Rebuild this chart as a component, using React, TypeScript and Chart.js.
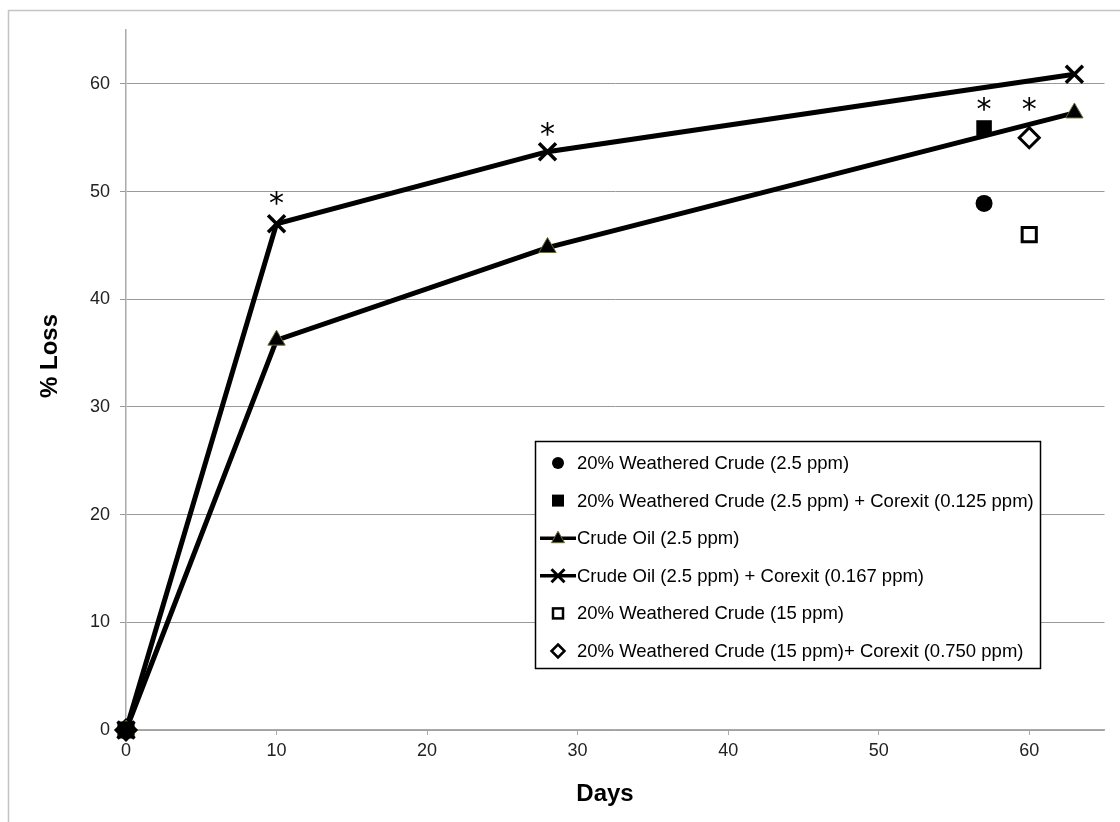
import React, { useEffect, useRef } from "react";
import { Chart, registerables } from "chart.js";

Chart.register(...registerables);

const lineDays = [0, 10, 28, 63];
const crudeOil = [0, 36.2, 44.8, 57.3];
const crudeOilCorexit = [0, 47.0, 53.7, 60.9];
const weathered25Days = [0, 57];
const weathered25 = [0, 48.9];
const weathered25Corexit = [0, 55.9];
const weathered15Days = [0, 60];
const weathered15 = [0, 46.0];
const weathered15Corexit = [0, 55.0];
const asteriskDays = [10, 28, 57, 60];
const asteriskValues = [49.4, 55.8, 58.1, 58.1];
const xTicks = [0, 10, 20, 30, 40, 50, 60];
const yTicks = [0, 10, 20, 30, 40, 50, 60];
const legendLabels = [
  "20% Weathered Crude (2.5 ppm)",
  "20% Weathered Crude (2.5 ppm) + Corexit (0.125 ppm)",
  "Crude Oil (2.5 ppm)",
  "Crude Oil (2.5 ppm) + Corexit (0.167 ppm)",
  "20% Weathered Crude (15 ppm)",
  "20% Weathered Crude (15 ppm)+ Corexit (0.750 ppm)",
];
const xTitle = "Days";
const yTitle = "% Loss";

const FONT = "'Liberation Sans', Arial, sans-serif";

const pts = (xs: number[], ys: number[]) => xs.map((x, i) => ({ x, y: ys[i] }));

function drawMarker(ctx: CanvasRenderingContext2D, kind: string, x: number, y: number) {
  ctx.save();
  ctx.strokeStyle = "#000";
  ctx.fillStyle = "#000";
  if (kind === "circle") {
    ctx.beginPath();
    ctx.arc(x, y, 6, 0, Math.PI * 2);
    ctx.fill();
  } else if (kind === "square") {
    ctx.fillRect(x - 6, y - 6, 12, 12);
  } else if (kind === "openSquare") {
    ctx.lineWidth = 2.5;
    ctx.strokeRect(x - 5, y - 5, 10, 10);
  } else if (kind === "diamond") {
    ctx.lineWidth = 2.5;
    ctx.beginPath();
    ctx.moveTo(x, y - 6.5);
    ctx.lineTo(x + 6.5, y);
    ctx.lineTo(x, y + 6.5);
    ctx.lineTo(x - 6.5, y);
    ctx.closePath();
    ctx.stroke();
  } else if (kind === "triangleLine" || kind === "crossLine") {
    ctx.lineWidth = 3.5;
    ctx.beginPath();
    ctx.moveTo(x - 18, y);
    ctx.lineTo(x + 18, y);
    ctx.stroke();
    if (kind === "triangleLine") {
      ctx.beginPath();
      ctx.moveTo(x, y - 7);
      ctx.lineTo(x + 6.5, y + 4.5);
      ctx.lineTo(x - 6.5, y + 4.5);
      ctx.closePath();
      ctx.fill();
      ctx.lineWidth = 1;
      ctx.strokeStyle = "#6b6b3a";
      ctx.stroke();
    } else {
      ctx.lineWidth = 3;
      ctx.beginPath();
      ctx.moveTo(x - 6.5, y - 6.5);
      ctx.lineTo(x + 6.5, y + 6.5);
      ctx.moveTo(x + 6.5, y - 6.5);
      ctx.lineTo(x - 6.5, y + 6.5);
      ctx.stroke();
    }
  }
  ctx.restore();
}

const legendKinds = ["circle", "square", "triangleLine", "crossLine", "openSquare", "diamond"];

const decorPlugin = {
  id: "decor",
  afterDraw(chart: any) {
    const ctx: CanvasRenderingContext2D = chart.ctx;
    const xs = chart.scales.x;
    const ys = chart.scales.y;
    ctx.save();
    // outer frame
    ctx.strokeStyle = "#c4c4c4";
    ctx.lineWidth = 1.5;
    ctx.beginPath();
    ctx.moveTo(8.5, 822);
    ctx.lineTo(8.5, 10.5);
    ctx.lineTo(1120, 10.5);
    ctx.stroke();

    // asterisks
    ctx.fillStyle = "#000";
    ctx.font = `30px 'DejaVu Sans', sans-serif`;
    ctx.textAlign = "center";
    ctx.textBaseline = "alphabetic";
    const m = ctx.measureText("*");
    const off = (m.actualBoundingBoxAscent - m.actualBoundingBoxDescent) / 2;
    asteriskDays.forEach((d, i) => {
      const px = xs.getPixelForValue(d);
      const py = ys.getPixelForValue(asteriskValues[i]);
      ctx.fillText("*", px, py + off);
    });

    // axis titles
    ctx.font = `bold 24px ${FONT}`;
    ctx.textBaseline = "middle";
    ctx.fillText(xTitle, 605, 794);
    ctx.save();
    ctx.translate(50, 356);
    ctx.rotate(-Math.PI / 2);
    ctx.fillText(yTitle, 0, 0);
    ctx.restore();

    // legend
    const lx = 535.5, ly = 441.5, lw = 505, lh = 227;
    ctx.fillStyle = "#fff";
    ctx.fillRect(lx, ly, lw, lh);
    ctx.strokeStyle = "#000";
    ctx.lineWidth = 1.5;
    ctx.strokeRect(lx, ly, lw, lh);
    ctx.font = `18.5px ${FONT}`;
    ctx.textAlign = "left";
    ctx.textBaseline = "middle";
    legendLabels.forEach((label, i) => {
      const cy = 463 + i * 37.6;
      drawMarker(ctx, legendKinds[i], 558, cy);
      ctx.fillStyle = "#000";
      ctx.fillText(label, 577, cy + 1);
    });
    ctx.restore();
  },
};

export default function App() {
  const ref = useRef<HTMLCanvasElement | null>(null);
  useEffect(() => {
    if (!ref.current) return;
    const chart = new Chart(ref.current, {
      type: "scatter",
      data: {
        datasets: [
          {
            label: legendLabels[0],
            data: pts(weathered25Days, weathered25),
            pointStyle: "circle",
            pointRadius: 8.5,
            backgroundColor: "#000",
            borderColor: "#000",
            pointBorderWidth: 0,
            showLine: false,
            clip: false,
          },
          {
            label: legendLabels[1],
            data: pts(weathered25Days, weathered25Corexit),
            pointStyle: "rect",
            pointRadius: 11,
            backgroundColor: "#000",
            borderColor: "#000",
            pointBorderWidth: 0,
            showLine: false,
            clip: false,
          },
          {
            label: legendLabels[2],
            data: pts(lineDays, crudeOil),
            showLine: true,
            borderColor: "#000",
            borderWidth: 5,
            pointStyle: "triangle",
            pointRadius: 10,
            pointBackgroundColor: "#000",
            pointBorderColor: "#6b6b3a",
            pointBorderWidth: 1,
            tension: 0,
            clip: false,
          },
          {
            label: legendLabels[3],
            data: pts(lineDays, crudeOilCorexit),
            showLine: true,
            borderColor: "#000",
            borderWidth: 5,
            pointStyle: "crossRot",
            pointRadius: 12,
            pointBorderColor: "#000",
            pointBorderWidth: 3.5,
            tension: 0,
            clip: false,
          },
          {
            label: legendLabels[4],
            data: pts(weathered15Days, weathered15),
            pointStyle: "rect",
            pointRadius: 10,
            backgroundColor: "#fff",
            borderColor: "#000",
            pointBorderWidth: 3,
            showLine: false,
            clip: false,
          },
          {
            label: legendLabels[5],
            data: pts(weathered15Days, weathered15Corexit),
            pointStyle: "rectRot",
            pointRadius: 10,
            backgroundColor: "#fff",
            borderColor: "#000",
            pointBorderWidth: 3,
            showLine: false,
            clip: false,
          },
        ],
      },
      options: {
        animation: false,
        responsive: false,
        devicePixelRatio: 1,
        layout: { padding: { top: 30, right: 13, left: 0, bottom: 0 } },
        plugins: { legend: { display: false }, tooltip: { enabled: false }, title: { display: false } },
        scales: {
          x: {
            type: "linear",
            min: 0,
            max: 65,
            afterBuildTicks: (s: any) => {
              s.ticks = xTicks.map((v) => ({ value: v }));
            },
            afterFit: (s: any) => {
              s.height = 92;
            },
            ticks: { font: { family: FONT, size: 18 }, color: "#222", padding: 5, maxRotation: 0 },
            grid: { drawOnChartArea: false, drawTicks: true, tickLength: 5, color: "#aaa", lineWidth: 1 },
            border: { color: "#aaa", width: 1.5 },
          },
          y: {
            type: "linear",
            min: 0,
            max: 65,
            afterBuildTicks: (s: any) => {
              s.ticks = yTicks.map((v) => ({ value: v }));
            },
            afterFit: (s: any) => {
              s.width = 126;
            },
            ticks: { font: { family: FONT, size: 18 }, color: "#222", padding: 10 },
            grid: { color: "#999", lineWidth: 1, tickLength: 6, drawTicks: true },
            border: { color: "#aaa", width: 1.5 },
          },
        },
      },
      plugins: [decorPlugin],
    });
    return () => chart.destroy();
  }, []);
  return (
    <div style={{ position: "absolute", left: 0, top: 0, width: 1120, height: 822, background: "#fff" }}>
      <canvas ref={ref} width={1120} height={822} style={{ width: 1120, height: 822, display: "block" }} />
    </div>
  );
}
